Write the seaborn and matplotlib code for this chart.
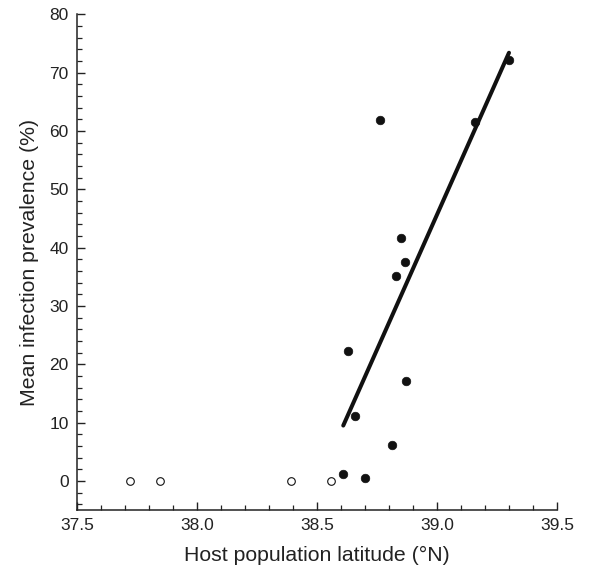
import numpy as np
import pandas as pd
import seaborn as sns
import matplotlib.pyplot as plt
from matplotlib.ticker import MultipleLocator

# infected populations (filled) and uninfected populations (open)
lat_infected = [38.61, 38.70, 38.81, 38.656, 38.871, 38.629, 38.827,
                38.864, 38.851, 38.762, 39.159, 39.299]
prev_infected = [1.2, 0.5, 6.1, 11.2, 17.2, 22.2, 35.1,
                 37.6, 41.6, 61.9, 61.5, 72.1]
lat_uninfected = [37.72, 37.845, 38.39, 38.56]
prev_uninfected = [0, 0, 0, 0]

# fitted regression line endpoints
fit_lat = [38.609, 39.299]
fit_prev = [9.5, 73.4]

sns.set_style("ticks")
plt.rcParams["font.family"] = ["Liberation Sans", "DejaVu Sans"]

fig = plt.figure(figsize=(5.96, 5.70), dpi=100)
ax = fig.add_axes([0.129, 0.105, 0.806, 0.870])

sns.lineplot(x=fit_lat, y=fit_prev, color="#111111", linewidth=2.9, ax=ax)
sns.scatterplot(x=lat_infected, y=prev_infected, color="#111111", s=38,
                edgecolor="#111111", linewidth=0.5, ax=ax, zorder=3)
sns.scatterplot(x=lat_uninfected, y=prev_uninfected, facecolor="white", s=30,
                edgecolor="#111111", linewidth=0.8, ax=ax, zorder=3)

ax.set_xlim(37.5, 39.5)
ax.set_ylim(-5, 80)
ax.xaxis.set_major_locator(MultipleLocator(0.5))
ax.xaxis.set_minor_locator(MultipleLocator(0.1))
ax.yaxis.set_major_locator(MultipleLocator(10))
ax.yaxis.set_minor_locator(MultipleLocator(2))
ax.set_xticklabels([f"{v:.1f}" for v in ax.get_xticks()])
ax.tick_params(which="major", direction="in", length=6, width=1, labelsize=12.5,
               colors="#222222", pad=6)
ax.tick_params(which="minor", direction="in", length=3.5, width=0.9, colors="#222222")
sns.despine(ax=ax)
for s in ["left", "bottom"]:
    ax.spines[s].set_linewidth(1.1)
    ax.spines[s].set_color("#222222")

ax.set_xlabel("Host population latitude (\u00b0N)", fontsize=15.3, color="#222222", labelpad=9)
ax.set_ylabel("Mean infection prevalence (%)", fontsize=15.3, color="#222222", labelpad=7)

plt.savefig("out.png", dpi=100)
